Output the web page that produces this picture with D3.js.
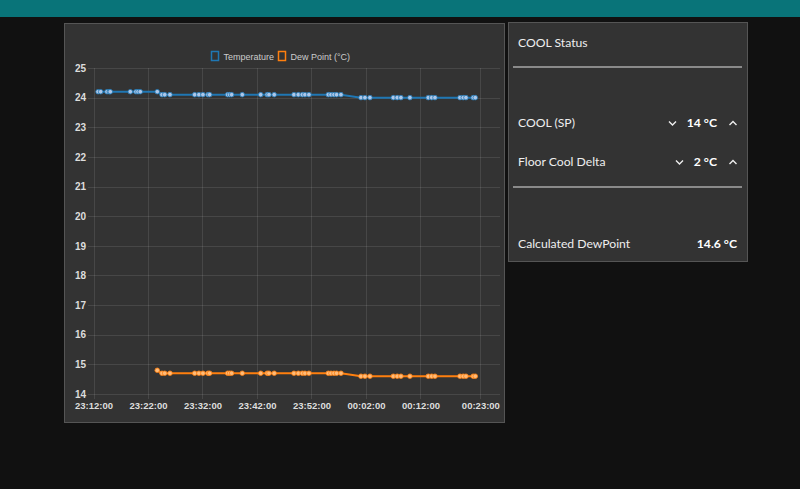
<!DOCTYPE html>
<html>
<head>
<meta charset="utf-8">
<script src="https://cdn.jsdelivr.net/npm/d3@7"></script>
<style>
  html, body { margin: 0; padding: 0; background: #111111; overflow: hidden; }
  svg { display: block; }
</style>
</head>
<body>
<script>
// sample times
const times = [
  "23:12:50", "23:13:19", "23:14:29", "23:14:54", "23:15:05", "23:18:45", "23:19:48", "23:20:10",
  "23:20:35", "23:23:42", "23:24:34", "23:25:04", "23:26:02", "23:30:34", "23:31:21", "23:32:05",
  "23:33:01", "23:33:19", "23:36:37", "23:36:59", "23:37:21", "23:39:18", "23:42:41", "23:43:53",
  "23:44:12", "23:45:10", "23:48:47", "23:49:35", "23:50:19", "23:50:48", "23:51:32", "23:55:05",
  "23:55:35", "23:56:08", "23:56:37", "23:57:25", "00:01:05", "00:01:49", "00:02:44", "00:07:01",
  "00:07:44", "00:08:25", "00:10:04", "00:13:26", "00:14:04", "00:14:40", "00:19:15", "00:19:51",
  "00:20:21", "00:21:41", "00:22:04"
];
const temperature = [
  24.2, 24.2, 24.2, 24.2, 24.2, 24.2, 24.2, 24.2,
  24.2, 24.2, 24.1, 24.1, 24.1, 24.1, 24.1, 24.1,
  24.1, 24.1, 24.1, 24.1, 24.1, 24.1, 24.1, 24.1,
  24.1, 24.1, 24.1, 24.1, 24.1, 24.1, 24.1, 24.1,
  24.1, 24.1, 24.1, 24.1, 24.0, 24.0, 24.0, 24.0,
  24.0, 24.0, 24.0, 24.0, 24.0, 24.0, 24.0, 24.0,
  24.0, 24.0, 24.0
];
const dewPoint = [
  null, null, null, null, null, null, null, null,
  null, 14.8, 14.7, 14.7, 14.7, 14.7, 14.7, 14.7,
  14.7, 14.7, 14.7, 14.7, 14.7, 14.7, 14.7, 14.7,
  14.7, 14.7, 14.7, 14.7, 14.7, 14.7, 14.7, 14.7,
  14.7, 14.7, 14.7, 14.7, 14.6, 14.6, 14.6, 14.6,
  14.6, 14.6, 14.6, 14.6, 14.6, 14.6, 14.6, 14.6,
  14.6, 14.6, 14.6
];
const xTickLabels = ["23:12:00", "23:22:00", "23:32:00", "23:42:00", "23:52:00", "00:02:00", "00:12:00", "00:23:00"];
const xDomainLabels = ["23:12:00", "00:26:36"];
const yTicks = [14, 15, 16, 17, 18, 19, 20, 21, 22, 23, 24, 25];
const seriesNames = ["Temperature", "Dew Point (°C)"];

const parseTime = d3.timeParse("%Y-%m-%d %H:%M:%S");
// anything before noon belongs to the next day
const toDate = s => parseTime((+s.slice(0, 2) < 12 ? "2021-01-02 " : "2021-01-01 ") + s);

const W = 800, H = 489;
const font = "'Liberation Sans', Arial, sans-serif";
const uiFont = "Lato, 'Noto Sans', sans-serif";

const svg = d3.select("body").append("svg")
  .attr("width", W).attr("height", H);

svg.append("rect").attr("width", W).attr("height", H).attr("fill", "#111111");
svg.append("rect").attr("width", W).attr("height", 17).attr("fill", "#097479");

// ---- chart card ----
svg.append("rect")
  .attr("x", 64.5).attr("y", 23.5).attr("width", 440).attr("height", 399)
  .attr("fill", "#333333").attr("stroke", "#555555");

const x = d3.scaleTime()
  .domain(xDomainLabels.map(toDate))
  .range([93.5, 500]);
const y = d3.scaleLinear()
  .domain([14, 25])
  .range([394, 68]);

const grid = svg.append("g");
grid.selectAll(".hgrid")
  .data(yTicks)
  .join("line")
    .attr("x1", 88).attr("x2", 500)
    .attr("y1", d => Math.round(y(d)) + 0.5).attr("y2", d => Math.round(y(d)) + 0.5)
    .attr("stroke", "rgba(255,255,255,0.1)");
grid.selectAll(".vgrid")
  .data(xTickLabels.map(toDate))
  .join("line")
    .attr("x1", d => Math.round(x(d)) + 0.5).attr("x2", d => Math.round(x(d)) + 0.5)
    .attr("y1", 68).attr("y2", 399)
    .attr("stroke", "rgba(255,255,255,0.1)");

const yAxis = g => g
  .attr("transform", "translate(86,0)")
  .call(d3.axisLeft(y).tickValues(yTicks).tickFormat(d3.format("d")).tickSize(0).tickPadding(0))
  .call(g => g.select(".domain").remove())
  .call(g => g.selectAll("text")
      .attr("fill", "#dddddd")
      .attr("font-family", font)
      .attr("font-size", 10)
      .attr("font-weight", "bold"));

const xAxis = g => g
  .attr("transform", "translate(0,402)")
  .call(d3.axisBottom(x).tickValues(xTickLabels.map(toDate)).tickFormat(d3.timeFormat("%H:%M:%S")).tickSize(0).tickPadding(0))
  .call(g => g.select(".domain").remove())
  .call(g => g.selectAll("text")
      .attr("fill", "#dddddd")
      .attr("font-family", font)
      .attr("font-size", 9.5)
      .attr("font-weight", "bold"));

svg.append("g").call(yAxis);
svg.append("g").call(xAxis);

const series = [
  { name: seriesNames[0], values: temperature, color: "#1f77b4", pointFill: "#aec7e8" },
  { name: seriesNames[1], values: dewPoint, color: "#ff7f0e", pointFill: "#ffbb78" }
];

const line = d3.line()
  .defined(d => d.v !== null)
  .x(d => x(d.t))
  .y(d => y(d.v));

series.forEach(s => {
  const pts = times.map((t, i) => ({ t: toDate(t), v: s.values[i] }));
  svg.append("path")
    .datum(pts)
    .attr("fill", "none")
    .attr("stroke", s.color)
    .attr("stroke-width", 2)
    .attr("d", line);
  svg.append("g")
    .selectAll("circle")
    .data(pts.filter(d => d.v !== null))
    .join("circle")
      .attr("cx", d => x(d.t))
      .attr("cy", d => y(d.v))
      .attr("r", 2.3)
      .attr("fill", s.pointFill)
      .attr("stroke", s.color)
      .attr("stroke-width", 0.8);
});

// legend
const legendX = [211.5, 278.5];
const legend = svg.append("g")
  .selectAll("g")
  .data(series)
  .join("g")
    .attr("transform", (d, i) => `translate(${legendX[i]},51.5)`);
legend.append("rect")
  .attr("width", 7).attr("height", 9)
  .attr("fill", "none")
  .attr("stroke", d => d.color)
  .attr("stroke-width", 1.5);
legend.append("text")
  .attr("x", 12).attr("y", 8)
  .attr("fill", "#cccccc")
  .attr("font-family", font)
  .attr("font-size", 9)
  .text(d => d.name);

// ---- status card ----
svg.append("rect")
  .attr("x", 508.5).attr("y", 22.5).attr("width", 239).attr("height", 239)
  .attr("fill", "#333333").attr("stroke", "#555555");

const label = (tx, ty, txt, anchor, bold) => svg.append("text")
  .attr("x", tx).attr("y", ty)
  .attr("text-anchor", anchor || "start")
  .attr("fill", bold ? "#ffffff" : "#eeeeee")
  .attr("font-family", uiFont)
  .attr("font-size", 12.2)
  .attr("font-weight", bold ? "bold" : "normal")
  .text(txt);

label(518, 47, "COOL Status");
svg.append("line").attr("x1", 513).attr("x2", 742).attr("y1", 67).attr("y2", 67)
  .attr("stroke", "#8a8a8a").attr("stroke-width", 2);

label(518, 127, "COOL (SP)");
label(717, 127, "14 °C", "end", true);
label(518, 166, "Floor Cool Delta");
label(717, 166, "2 °C", "end", true);

svg.append("line").attr("x1", 513).attr("x2", 742).attr("y1", 187).attr("y2", 187)
  .attr("stroke", "#8a8a8a").attr("stroke-width", 2);

label(518, 248, "Calculated DewPoint");
label(737, 248, "14.6 °C", "end", true);

// chevrons
const chevron = (cx, cy, up) => svg.append("path")
  .attr("d", up
    ? `M${cx - 3.5},${cy + 2}L${cx},${cy - 1.5}L${cx + 3.5},${cy + 2}`
    : `M${cx - 3.5},${cy - 1.5}L${cx},${cy + 2}L${cx + 3.5},${cy - 1.5}`)
  .attr("fill", "none")
  .attr("stroke", "#eeeeee")
  .attr("stroke-width", 1.4);

chevron(672.5, 123, false);
chevron(733, 123, true);
chevron(679.5, 162, false);
chevron(733, 162, true);
</script>
</body>
</html>
